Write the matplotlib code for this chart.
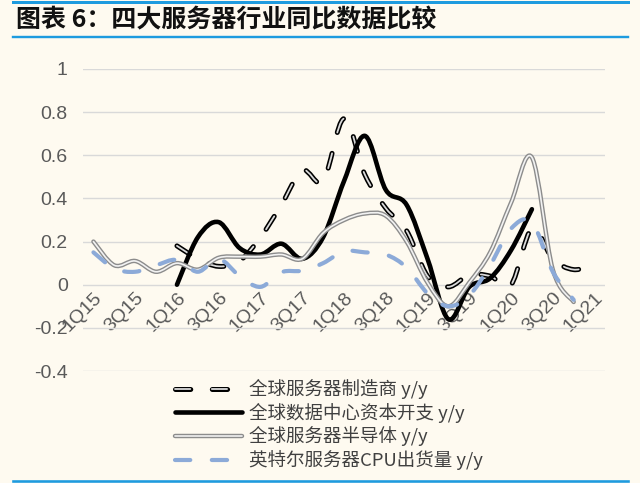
import numpy as np
import matplotlib as mpl
import matplotlib.pyplot as plt
import matplotlib.patheffects as pe
from matplotlib.path import Path
from matplotlib.patches import PathPatch
from matplotlib.lines import Line2D

mpl.rcParams['lines.scale_dashes'] = False
plt.rcParams['font.family'] = ['Liberation Sans', 'Noto Sans CJK SC']

bg = '#FEFAF0'
rule_blue = '#1E9BDF'

### dati
quarters = ['1Q15', '2Q15', '3Q15', '4Q15', '1Q16', '2Q16', '3Q16', '4Q16',
            '1Q17', '2Q17', '3Q17', '4Q17', '1Q18', '2Q18', '3Q18', '4Q18',
            '1Q19', '2Q19', '3Q19', '4Q19', '1Q20', '2Q20', '3Q20', '4Q20',
            '1Q21']
nan = np.nan
server_oem = [nan, nan, nan, nan, 0.18, 0.12, 0.085, 0.11, 0.22, 0.37, 0.53,
              0.48, 0.77, 0.51, 0.355, 0.25, 0.04, -0.01, 0.045, 0.04, 0.0,
              0.26, 0.12, 0.07, 0.095]
dc_capex = [nan, nan, nan, nan, 0.0, 0.22, 0.29, 0.17, 0.14, 0.19, 0.12,
            0.22, 0.48, 0.69, 0.44, 0.37, 0.12, -0.16, -0.01, 0.03, 0.16,
            0.35, nan, nan, nan]
server_semi = [0.20, 0.09, 0.11, 0.06, 0.10, 0.07, 0.125, 0.13, 0.13, 0.14,
               0.12, 0.24, 0.30, 0.33, 0.32, 0.20, 0.01, -0.10, 0.01, 0.15,
               0.38, 0.59, 0.07, -0.08, nan]
intel_cpu = [0.15, 0.075, 0.06, 0.09, 0.115, 0.06, 0.12, 0.04, -0.01, 0.058,
             0.065, 0.10, 0.155, 0.15, 0.14, 0.08, -0.04, -0.10, -0.05, 0.09,
             0.26, 0.29, 0.06, -0.07, nan]
labels = ['全球服务器制造商 y/y', '全球数据中心资本开支 y/y',
          '全球服务器半导体 y/y', '英特尔服务器CPU出货量 y/y']
y_ticks = [-0.4, -0.2, 0, 0.2, 0.4, 0.6, 0.8, 1]
y_ticklabels = ['-0.4', '-0.2', '0', '0.2', '0.4', '0.6', '0.8', '1']


def smooth_path(values):
    # linea smussata come Excel: bezier cubiche (Catmull-Rom) tra i punti
    x = np.arange(len(values), dtype=float)
    y = np.asarray(values, dtype=float)
    verts, codes = [], []
    ok = ~np.isnan(y)
    i = 0
    while i < len(y):
        if not ok[i]:
            i += 1
            continue
        j = i
        while j + 1 < len(y) and ok[j + 1]:
            j += 1
        pts = np.column_stack([x[i:j + 1], y[i:j + 1]])
        verts.append(pts[0]); codes.append(Path.MOVETO)
        for k in range(len(pts) - 1):
            p0 = pts[k - 1] if k > 0 else pts[k]
            p1, p2 = pts[k], pts[k + 1]
            p3 = pts[k + 2] if k + 2 < len(pts) else pts[k + 1]
            verts += [p1 + (p2 - p0) / 6, p2 - (p3 - p1) / 6, p2]
            codes += [Path.CURVE4] * 3
        i = j + 1
    return Path(verts, codes)


styles = [
    dict(color='#DADADA', lw=1.3, ls=(0, (11, 15.5)),
         fx=[pe.Stroke(linewidth=3.6, foreground='black'), pe.Normal()]),
    dict(color='black', lw=3.3, ls='-', fx=None),
    dict(color='#F2F2F2', lw=1.2, ls='-',
         fx=[pe.Stroke(linewidth=3.2, foreground='#8C8C8C'), pe.Normal()]),
    dict(color='#8CAAD8', lw=3.0, ls=(0, (11, 15.5)), fx=None),
]

fig = plt.figure(figsize=(6.4, 4.83), dpi=100, facecolor=bg)
ax = fig.add_axes([83 / 640, 112 / 483, 522 / 640, 302 / 483])
ax.set_facecolor('none')

# asse x sullo zero (prima dei tick, altrimenti vengono resettati)
for s in ['top', 'right', 'left']:
    ax.spines[s].set_visible(False)
ax.spines['bottom'].set_position(('data', 0))
ax.spines['bottom'].set_visible(False)

handles = []
for z, (serie, st) in enumerate(zip([server_oem, dc_capex, server_semi, intel_cpu], styles)):
    patch = PathPatch(smooth_path(serie), fill=False, edgecolor=st['color'],
                      lw=st['lw'], linestyle=st['ls'], capstyle='round',
                      joinstyle='round', zorder=3 + z)
    if st['fx']:
        patch.set_path_effects(st['fx'])
    ax.add_patch(patch)
    h = Line2D([], [], color=st['color'], lw=st['lw'], ls=st['ls'],
               dash_capstyle='round', solid_capstyle='round')
    if st['fx']:
        h.set_path_effects(st['fx'])
    handles.append(h)

ax.set_xlim(-0.5, len(quarters) - 0.5)
ax.set_ylim(-0.4, 1)
ax.set_yticks(y_ticks)
ax.set_yticklabels(y_ticklabels)
ax.tick_params(length=0, labelsize=14, labelcolor='#595959')
ax.tick_params(axis='y', pad=11)
ax.tick_params(axis='x', pad=3)
ax.set_xticks(range(0, len(quarters), 2))
ax.set_xticklabels(quarters[::2], rotation=45, ha='right', va='top',
                   rotation_mode='anchor')
ax.grid(axis='y', color='#D9D9D9', lw=1)
ax.set_axisbelow(True)

fig.legend(handles, labels, loc='upper left',
           bbox_to_anchor=(175 / 640, 1 - 379 / 483), frameon=False,
           labelcolor='#404040', handlelength=3.6,
           handletextpad=0.4, labelspacing=0.2, borderpad=0,
           borderaxespad=0, prop={'family': ['Noto Sans CJK SC'], 'size': 13.3})

fig.text(16 / 640, 1 - 20 / 483, '图表 6：四大服务器行业同比数据比较',
         fontsize=18, fontweight='bold', style='italic', va='center',
         family=['Noto Sans CJK SC', 'DejaVu Sans'], color='#111111')

for yy, w in [(1.5, 3), (37, 2.4), (481, 2.6)]:
    fig.add_artist(Line2D([13 / 640, 628 / 640], [1 - yy / 483] * 2,
                          transform=fig.transFigure, color=rule_blue, lw=w * 0.72))

fig.savefig('out.png', dpi=100, facecolor=bg)
